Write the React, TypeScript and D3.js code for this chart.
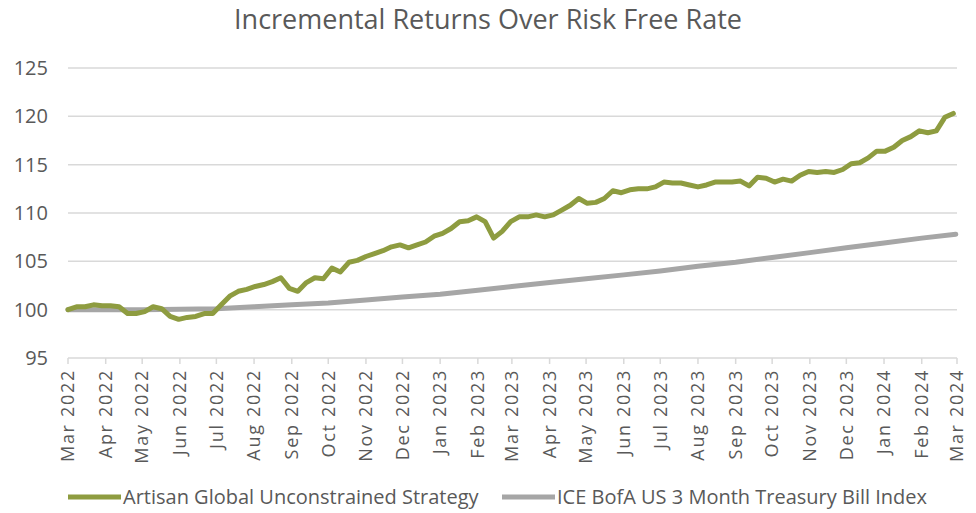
import React from "react";
import * as d3 from "d3";

const width = 976;
const height = 513;
const MARGIN = { top: 68, right: 19, bottom: 155, left: 68 };

const TITLE = "Incremental Returns Over Risk Free Rate";
const seriesNames = ["Artisan Global Unconstrained Strategy", "ICE BofA US 3 Month Treasury Bill Index"];

// weekly observations starting 2022-03-01
const strategyStart = "2022-03-01";
const strategyValues = [
  100.0, 100.3, 100.3, 100.5, 100.4, 100.4, 100.3, 99.6, 99.6, 99.8,
  100.3, 100.1, 99.3, 99.0, 99.2, 99.3, 99.6, 99.6, 100.5, 101.4,
  101.9, 102.1, 102.4, 102.6, 102.9, 103.3, 102.2, 101.9, 102.8, 103.3,
  103.2, 104.3, 103.9, 104.9, 105.1, 105.5, 105.8, 106.1, 106.5, 106.7,
  106.4, 106.7, 107.0, 107.6, 107.9, 108.4, 109.1, 109.2, 109.6, 109.1,
  107.4, 108.1, 109.1, 109.6, 109.6, 109.8, 109.6, 109.8, 110.3, 110.8,
  111.5, 111.0, 111.1, 111.5, 112.3, 112.1, 112.4, 112.5, 112.5, 112.7,
  113.2, 113.1, 113.1, 112.9, 112.7, 112.9, 113.2, 113.2, 113.2, 113.3,
  112.8, 113.7, 113.6, 113.2, 113.5, 113.3, 113.9, 114.3, 114.2, 114.3,
  114.2, 114.5, 115.1, 115.2, 115.7, 116.4, 116.4, 116.8, 117.5, 117.9,
  118.5, 118.3, 118.5, 119.9, 120.3,
];

// T-bill index, month starts
const tbillDates = [
  "2022-03-01", "2022-04-01", "2022-05-01", "2022-06-01", "2022-07-01", "2022-08-01",
  "2022-09-01", "2022-10-01", "2022-11-01", "2022-12-01", "2023-01-01", "2023-02-01",
  "2023-03-01", "2023-04-01", "2023-05-01", "2023-06-01", "2023-07-01", "2023-08-01",
  "2023-09-01", "2023-10-01", "2023-11-01", "2023-12-01", "2024-01-01", "2024-02-01",
  "2024-02-29",
];
const tbillValues = [
  100.0, 100.0, 100.0, 100.05, 100.1, 100.3, 100.5, 100.7, 101.0, 101.3, 101.6, 102.0,
  102.4, 102.8, 103.2, 103.6, 104.0, 104.5, 104.9, 105.4, 105.9, 106.4, 106.9, 107.4,
  107.8,
];

const yTicks = [95, 100, 105, 110, 115, 120, 125];
const xStart = "2022-03-01";
const xEnd = "2024-03-01";

const GREEN = "#8e9c40";
const GRAY = "#a6a6a6";
const TEXT = "#595959";
const GRID = "#d9d9d9";
const FONT = "'Open Sans', sans-serif";

const parse = d3.timeParse("%Y-%m-%d");

const App = () => {
  const boundsWidth = width - MARGIN.left - MARGIN.right;
  const boundsHeight = height - MARGIN.top - MARGIN.bottom;

  const xScale = d3
    .scaleTime()
    .domain([parse(xStart), parse(xEnd)])
    .range([0, boundsWidth]);
  const yScale = d3.scaleLinear().domain([95, 125]).range([boundsHeight, 0]);

  const t0 = parse(strategyStart);
  const strategy = strategyValues.map((v, i) => ({ date: d3.timeDay.offset(t0, 7 * i), v }));
  const tbill = tbillValues.map((v, i) => ({ date: parse(tbillDates[i]), v }));

  const lineBuilder = d3
    .line()
    .x((d) => xScale(d.date))
    .y((d) => yScale(d.v));

  const months = d3.timeMonth.range(parse(xStart), d3.timeDay.offset(parse(xEnd), 1));
  const fmt = d3.timeFormat("%b %Y");

  return (
    <svg
      width={width}
      height={height}
      style={{ position: "absolute", left: 0, top: 0, background: "#fff" }}
      fontFamily={FONT}
    >
      <text x={width / 2} y={29} textAnchor="middle" fontSize={27} fill={TEXT}>
        {TITLE}
      </text>
      <g transform={`translate(${MARGIN.left},${MARGIN.top})`}>
        {yTicks.map((t) => (
          <g key={t}>
            <line
              x1={0}
              x2={boundsWidth}
              y1={yScale(t)}
              y2={yScale(t)}
              stroke={GRID}
              strokeWidth={1.5}
            />
            <text x={-20} y={yScale(t)} dy="0.35em" textAnchor="end" fontSize={20} fill={TEXT}>
              {t}
            </text>
          </g>
        ))}
        {months.map((m, i) => (
          <g key={i} transform={`translate(${xScale(m)},${boundsHeight})`}>
            <line y1={0} y2={6} stroke={GRID} strokeWidth={1.5} />
            <text
              transform="rotate(-90)"
              x={-11}
              dy="0.35em"
              textAnchor="end"
              fontSize={18}
              letterSpacing={1.7}
              fill={TEXT}
            >
              {fmt(m)}
            </text>
          </g>
        ))}
        <path
          d={lineBuilder(tbill)}
          fill="none"
          stroke={GRAY}
          strokeWidth={5}
          strokeLinejoin="round"
          strokeLinecap="round"
        />
        <path
          d={lineBuilder(strategy)}
          fill="none"
          stroke={GREEN}
          strokeWidth={5}
          strokeLinejoin="round"
          strokeLinecap="round"
        />
      </g>
      <g fontSize={20} fill={TEXT}>
        <line x1={68} x2={121} y1={497} y2={497} stroke={GREEN} strokeWidth={5} />
        <text x={123} y={497} dy="0.35em">{seriesNames[0]}</text>
        <line x1={502} x2={555} y1={497} y2={497} stroke={GRAY} strokeWidth={5} />
        <text x={557} y={497} dy="0.35em">{seriesNames[1]}</text>
      </g>
    </svg>
  );
};

export default App;
